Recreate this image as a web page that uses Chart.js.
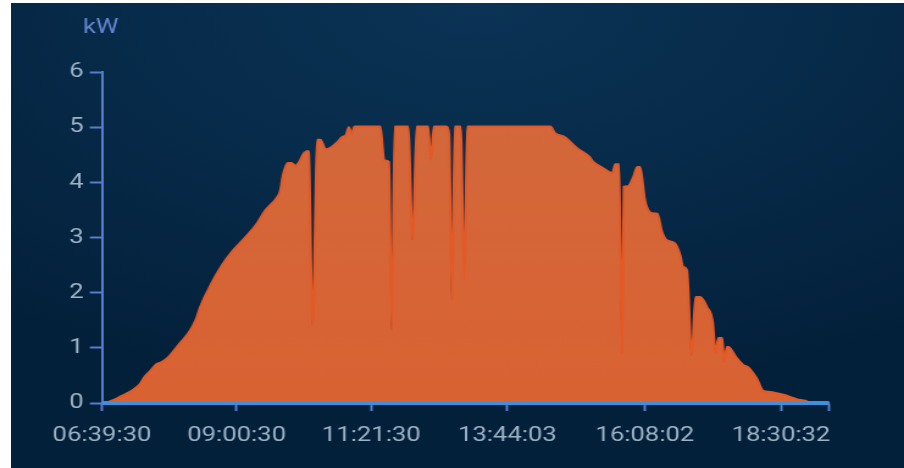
<!DOCTYPE html>
<html>
<head>
<meta charset="utf-8">
<script src="https://cdn.jsdelivr.net/npm/chart.js@4/dist/chart.umd.min.js"></script>
<style>
  html, body { margin: 0; padding: 0; background: #ffffff; }
  body { width: 904px; height: 468px; position: relative; overflow: hidden; }
  #panel {
    position: absolute; left: 11px; top: 3px; right: 0; bottom: 0;
    background: radial-gradient(ellipse 85% 85% at 52% 0%, #0b3355 0%, #072b4a 45%, #03203a 100%);
  }
  #c { position: absolute; left: 0; top: 0; }
</style>
</head>
<body>
<div id="panel"></div>
<canvas id="c" width="741" height="468" style="width:904px;height:468px"></canvas>
<script>
// PV output sampled over the day (kW)
const times = [
  '06:39:30','06:46','06:51','06:58','07:06','07:12','07:19','07:24','07:30','07:37',
  '07:42','07:49','07:58','08:04','08:12','08:18','08:22','08:26','08:29','08:36',
  '08:46','08:57','09:11','09:22','09:30','09:37','09:43','09:46','09:49','09:54',
  '09:58','10:02','10:06','10:11','10:15','10:16','10:20','10:25','10:28','10:34',
  '10:38','10:46','10:51','10:55','10:58','11:01','11:04','11:31','11:35','11:40',
  '11:43','11:46','12:00','12:05','12:09','12:21','12:24','12:27','12:40','12:43',
  '12:46','12:49','12:55','12:59','13:02','14:29','14:34','14:44','14:57','15:10',
  '15:14','15:24','15:34','15:37','15:41','15:44','15:46','15:50','15:56','16:00',
  '16:03','16:08','16:13','16:16','16:21','16:26','16:31','16:39','16:45','16:48',
  '16:52','16:57','17:01','17:06','17:13','17:19','17:22','17:25','17:29','17:31',
  '17:34','17:37','17:44','17:51','17:56','18:05','18:12','18:19','18:33','18:47',
  '18:56','19:03','19:20:48'
];
const power = [
  0, 0.02, 0.05, 0.11, 0.18, 0.24, 0.34, 0.47, 0.58, 0.71,
  0.74, 0.83, 1.02, 1.14, 1.32, 1.52, 1.72, 1.89, 1.99, 2.23,
  2.52, 2.77, 3.03, 3.26, 3.48, 3.61, 3.73, 3.84, 4.13, 4.35,
  4.35, 4.30, 4.37, 4.53, 4.57, 4.55, 1.41, 4.77, 4.77, 4.60,
  4.62, 4.73, 4.82, 4.86, 5.00, 4.88, 5.01, 5.01, 4.40, 4.37,
  1.32, 5.01, 5.01, 2.95, 5.01, 5.01, 4.40, 5.01, 5.01, 4.86,
  1.87, 5.01, 5.01, 2.23, 5.01, 5.01, 4.89, 4.82, 4.62, 4.46,
  4.37, 4.26, 4.17, 4.33, 4.33, 0.91, 3.92, 3.93, 4.10, 4.28,
  4.28, 3.68, 3.46, 3.44, 3.43, 3.10, 2.95, 2.90, 2.68, 2.47,
  2.41, 0.87, 1.92, 1.92, 1.74, 1.47, 0.91, 1.18, 1.18, 0.74,
  1.02, 1.00, 0.82, 0.69, 0.65, 0.45, 0.22, 0.20, 0.15, 0.07,
  0.04, 0, 0
];

// grid series (flat at zero all day)
const gridTimes = ['06:39:30', '19:20:48'];
const gridPower = [0, 0];

// x-axis tick positions and labels
const tickTimes  = ['06:39:30', '09:00:30', '11:21:30', '13:44:03', '16:08:02', '18:30:32', '19:20:48'];
const tickLabels = ['06:39:30', '09:00:30', '11:21:30', '13:44:03', '16:08:02', '18:30:32', ''];
const yTicks = [0, 1, 2, 3, 4, 5, 6];
const unit = 'kW';

function toSec(s) {
  const p = s.split(':').map(Number);
  return p[0] * 3600 + p[1] * 60 + (p[2] || 0);
}

const axisColor = '#5a7ccc';
const labelColor = '#9fb3c6';
const font = { family: 'Roboto', size: 21 };

const unitLabel = {
  id: 'unitLabel',
  afterDraw(chart) {
    const { ctx } = chart;
    const y = chart.scales.y;
    ctx.save();
    ctx.font = '21px Roboto';
    ctx.fillStyle = '#6585d2';
    ctx.textAlign = 'center';
    ctx.textBaseline = 'alphabetic';
    ctx.fillText(unit, y.right - 1, 33);
    ctx.restore();
  }
};

function orangeFill(ctx) {
  const area = ctx.chart.chartArea;
  if (!area) return '#d2673b';
  const g = ctx.chart.ctx.createLinearGradient(0, area.top, 0, area.bottom);
  g.addColorStop(0, '#d2693d');
  g.addColorStop(1, '#d96232');
  return g;
}

new Chart(document.getElementById('c'), {
  type: 'line',
  data: {
    datasets: [
      {
        label: 'grid',
        data: gridTimes.map((t, i) => ({ x: toSec(t), y: gridPower[i] })),
        borderColor: '#3d8fe0',
        borderWidth: 4,
        pointRadius: 0,
        fill: false,
        clip: 10,
        order: 0
      },
      {
        label: 'pv',
        data: times.map((t, i) => ({ x: toSec(t), y: power[i] })),
        borderColor: '#e35a27',
        borderWidth: 2,
        backgroundColor: orangeFill,
        pointRadius: 0,
        fill: 'origin',
        cubicInterpolationMode: 'monotone',
        order: 1
      }
    ]
  },
  options: {
    responsive: false,
    animation: false,
    devicePixelRatio: 1,
    layout: { padding: { left: 0, right: 61.5, top: 72, bottom: 0 } },
    plugins: { legend: { display: false }, tooltip: { enabled: false } },
    scales: {
      x: {
        type: 'linear',
        min: toSec(tickTimes[0]),
        max: toSec(tickTimes[tickTimes.length - 1]),
        afterBuildTicks: (s) => { s.ticks = tickTimes.map(t => ({ value: toSec(t) })); },
        afterFit: (s) => { s.height = 65; },
        grid: { drawOnChartArea: false, color: axisColor, tickLength: 8, tickWidth: 2 },
        border: { color: axisColor, width: 2 },
        ticks: {
          autoSkip: false, maxRotation: 0, color: labelColor, font, padding: 12,
          callback: (v, i) => tickLabels[i]
        }
      },
      y: {
        min: 0,
        max: 6,
        afterBuildTicks: (s) => { s.ticks = yTicks.map(v => ({ value: v })); },
        afterFit: (s) => { s.width = 83.6; },
        grid: { drawOnChartArea: false, color: axisColor, tickLength: 10, tickWidth: 2 },
        border: { color: axisColor, width: 2 },
        ticks: { color: labelColor, font, padding: 5, callback: (v) => String(v) }
      }
    }
  },
  plugins: [unitLabel]
});
</script>
</body>
</html>
